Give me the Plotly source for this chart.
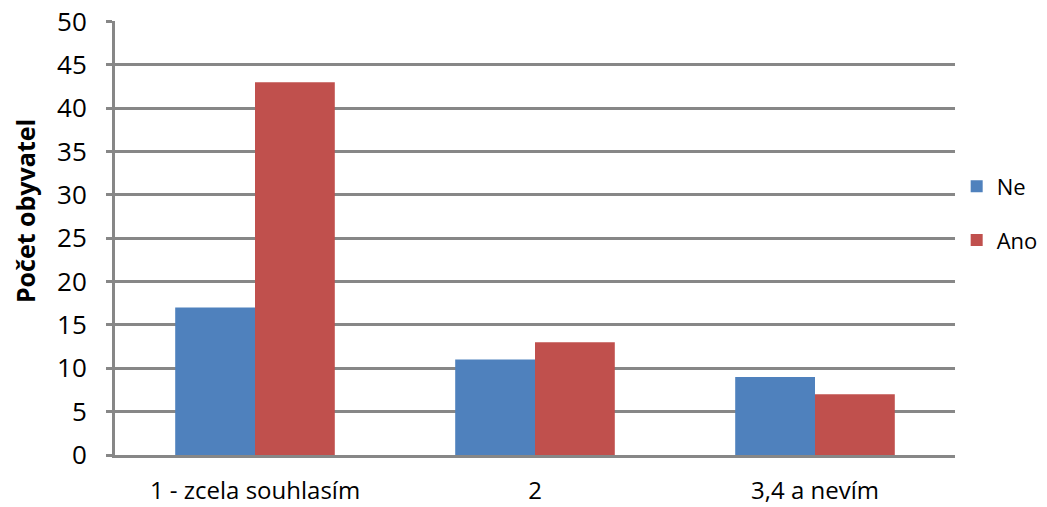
import plotly.graph_objects as go

categories = ["1 - zcela souhlasím", "2", "3,4 a nevím"]
ne_values = [17, 11, 9]
ano_values = [43, 13, 7]
y_ticks = list(range(0, 55, 5))

FONT = "Open Sans, sans-serif"
C_NE = "#4F81BD"
C_ANO = "#C0504D"
GRID = "#878787"

fig = go.Figure()
fig.add_trace(go.Bar(x=categories, y=ne_values, name="Ne", legendgroup="ne",
                     marker=dict(color=C_NE, line=dict(width=0))))
fig.add_trace(go.Bar(x=categories, y=ano_values, name="Ano", legendgroup="ano",
                     marker=dict(color=C_ANO, line=dict(width=0))))

fig.update_xaxes(showgrid=False, showline=True, linecolor=GRID, linewidth=3, automargin=False,
                 ticks="", ticklabelstandoff=12, ticklabeloverflow="allow",
                 tickfont=dict(size=24, color="black"))
fig.update_yaxes(range=[0, 50.05], tickvals=y_ticks, showgrid=True, gridcolor=GRID, gridwidth=3,
                 showline=True, linecolor=GRID, linewidth=3, ticks="outside", ticklen=6,
                 tickcolor=GRID, tickwidth=3, zeroline=False, automargin=False,
                 ticklabelstandoff=14, ticklabeloverflow="allow",
                 tickfont=dict(size=26, color="black"))

# y title sits a bit above the plot centre, as in the original
fig.add_annotation(text="<b>Počet obyvatel</b>", textangle=-90, xref="paper", yref="paper",
                   x=0, y=0.562, xshift=-90, xanchor="center", yanchor="middle",
                   showarrow=False, font=dict(size=25, color="black"))

fig.update_layout(
    font=dict(family=FONT),
    barmode="group",
    bargap=0.43,
    bargroupgap=0,
    paper_bgcolor="white",
    plot_bgcolor="white",
    width=1047, height=507,
    margin=dict(l=115, r=92, t=21, b=52, autoexpand=False),
    legend=dict(x=1.002, y=0.667, xanchor="left", yanchor="top", font=dict(size=22, color="black"),
                tracegroupgap=22, itemsizing="constant"),
)

# drop the default 8px body margin so the figure fills the window
fig.write_html("out.html", config={"displayModeBar": False},
               post_script="document.body.style.margin='0';")
